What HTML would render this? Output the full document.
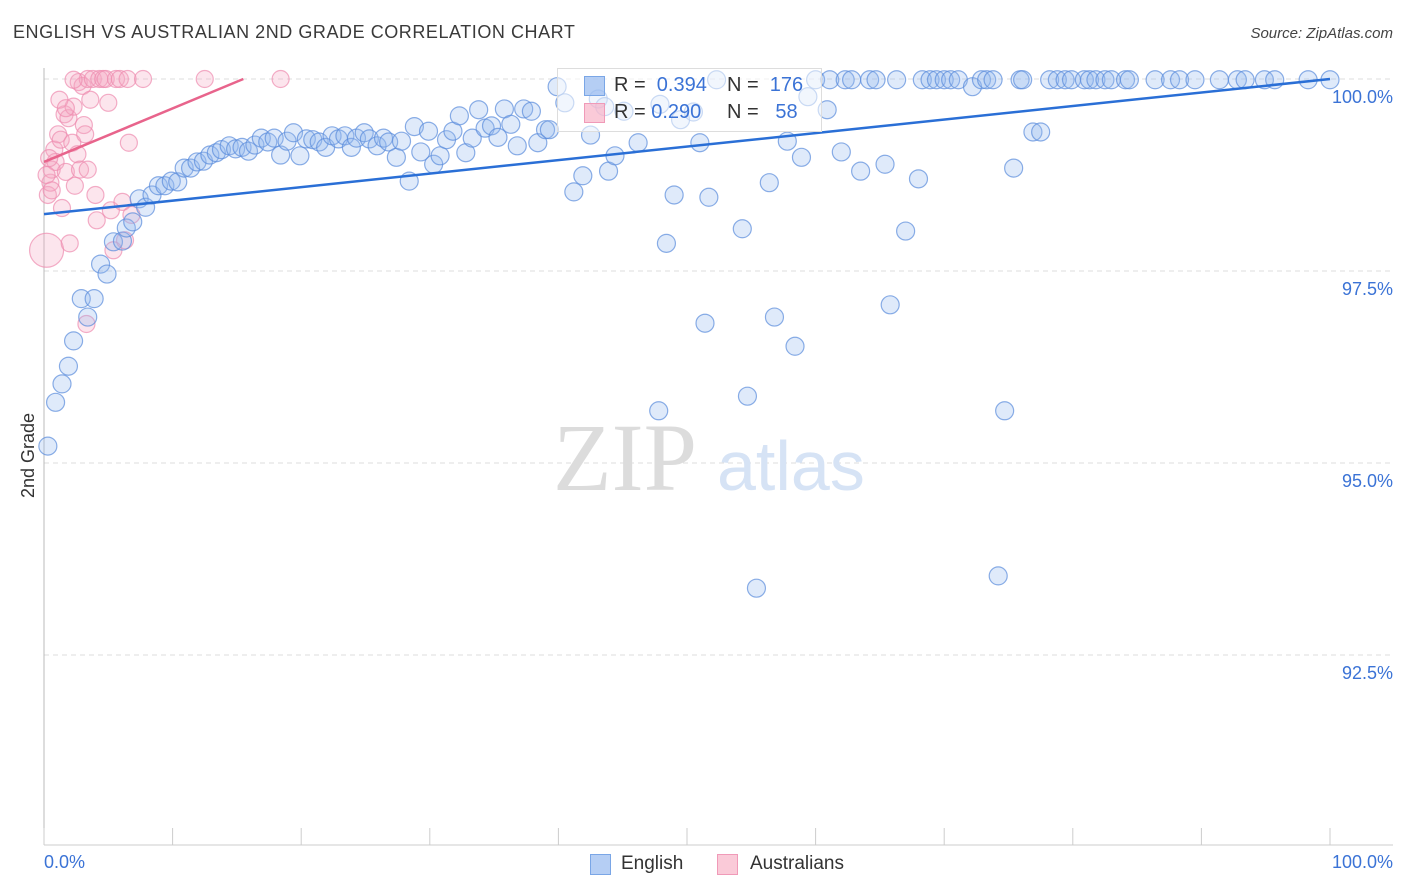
<!DOCTYPE html>
<html><head><meta charset="utf-8"><style>
body{margin:0;background:#fff;font-family:"Liberation Sans",sans-serif;}
#wrap{position:relative;width:1406px;height:892px;overflow:hidden;}
.t{position:absolute;white-space:nowrap;}
</style></head><body>
<div id="wrap">
<div class="t" style="left:13px;top:22px;font-size:18px;color:#3a3a3a;letter-spacing:0.55px;">ENGLISH VS AUSTRALIAN 2ND GRADE CORRELATION CHART</div>
<div class="t" style="right:13px;top:25px;font-size:15px;color:#444;font-style:italic;">Source: ZipAtlas.com</div>
<div class="t" style="left:-14px;top:445px;font-size:18px;color:#333;transform:rotate(-90deg);">2nd Grade</div>
<svg id="plot" width="1406" height="892" style="position:absolute;left:0;top:0"></svg>
<div class="t" style="left:44px;top:852px;font-size:18px;color:#3b73d6;">0.0%</div>
<div class="t" style="right:13px;top:852px;font-size:18px;color:#3b73d6;">100.0%</div>
<div style="position:absolute;left:557px;top:68px;width:263px;height:62px;border:1px solid #ddd;background:rgba(255,255,255,0.55);"></div>
<div style="position:absolute;left:584px;top:76px;width:19px;height:18px;background:rgba(150,185,240,0.7);border:1px solid #7aa6e6;"></div>
<div style="position:absolute;left:584px;top:103px;width:19px;height:18px;background:rgba(248,180,200,0.7);border:1px solid #f09ab8;"></div>
<div class="t" style="left:614px;top:74px;font-size:20px;color:#333;">R = <span style="color:#3b73d6">&nbsp;0.394</span></div>
<div class="t" style="left:727px;top:74px;font-size:20px;color:#333;">N = <span style="color:#3b73d6">&nbsp;176</span></div>
<div class="t" style="left:614px;top:101px;font-size:20px;color:#333;">R = <span style="color:#3b73d6">0.290</span></div>
<div class="t" style="left:727px;top:101px;font-size:20px;color:#333;">N = <span style="color:#3b73d6">&nbsp;&nbsp;58</span></div>
<div style="position:absolute;left:590px;top:854px;width:19px;height:19px;background:rgba(150,185,240,0.7);border:1px solid #7aa6e6;"></div>
<div class="t" style="left:621px;top:853px;font-size:19px;color:#333;">English</div>
<div style="position:absolute;left:717px;top:854px;width:19px;height:19px;background:rgba(248,180,200,0.7);border:1px solid #f09ab8;"></div>
<div class="t" style="left:750px;top:853px;font-size:19px;color:#333;">Australians</div>
</div>
<script>
const yTicks=[100,97.5,95,92.5];
const yTickLabels=["100.0%","97.5%","95.0%","92.5%"];
const englishX=[0.3,0.9,1.4,1.9,2.3,3.4,2.9,3.9,4.4,4.9,5.4,6.1,6.4,6.9,7.4,7.9,8.4,8.9,9.4,9.9,10.4,10.9,11.4,11.9,12.4,12.9,13.4,13.8,14.4,14.9,15.4,15.9,16.4,16.9,17.4,17.9,18.4,18.9,19.4,19.9,20.4,20.9,21.4,21.9,22.4,22.9,23.4,23.9,24.3,24.9,25.3,25.9,26.4,26.8,27.4,27.8,28.4,28.8,29.3,29.9,30.3,30.8,31.3,31.8,32.3,32.8,33.3,33.8,34.3,34.8,35.3,35.8,36.3,36.8,37.3,37.9,38.4,39.0,39.3,39.9,40.5,41.2,41.9,42.5,43.1,43.6,43.9,44.4,45.1,46.2,47.9,48.4,49.0,49.5,50.5,51.0,51.4,51.7,52.3,54.3,54.7,56.4,56.8,57.8,58.4,58.9,59.4,60.0,60.9,61.1,62.0,62.3,62.8,63.5,64.2,64.7,65.4,65.8,66.3,67.0,68.0,68.3,68.9,69.4,70.0,70.5,71.1,72.2,72.9,73.3,73.8,74.2,74.7,75.4,75.9,76.1,76.9,77.5,78.2,78.8,79.4,79.9,80.9,81.3,81.8,82.5,83.0,84.1,84.4,86.4,87.6,88.3,89.5,91.4,92.8,93.4,94.9,95.7,98.3,100,55.4,47.8];
const englishY=[95.22,95.79,96.03,96.26,96.59,96.90,97.14,97.14,97.59,97.46,97.88,97.89,98.06,98.14,98.44,98.33,98.49,98.61,98.61,98.67,98.66,98.84,98.84,98.92,98.93,99.01,99.04,99.08,99.13,99.09,99.11,99.06,99.14,99.23,99.18,99.23,99.01,99.19,99.30,99.00,99.22,99.21,99.18,99.11,99.26,99.22,99.26,99.11,99.23,99.30,99.22,99.13,99.23,99.18,98.98,99.19,98.67,99.38,99.05,99.32,98.89,99.00,99.21,99.32,99.52,99.04,99.23,99.60,99.36,99.39,99.24,99.61,99.41,99.13,99.61,99.58,99.17,99.34,99.34,99.90,99.69,98.53,98.74,99.27,99.74,99.64,98.80,99.00,99.58,99.17,99.67,97.86,98.49,99.47,99.57,99.17,96.82,98.46,99.99,98.05,95.87,98.65,96.90,99.19,96.52,98.98,99.77,99.99,99.60,99.99,99.05,99.99,99.99,98.80,99.99,99.99,98.89,97.06,99.99,98.02,98.70,99.99,99.99,99.99,99.99,99.99,99.99,99.90,99.99,99.99,99.99,93.53,95.68,98.84,99.99,99.99,99.31,99.31,99.99,99.99,99.99,99.99,99.99,99.99,99.99,99.99,99.99,99.99,99.99,99.99,99.99,99.99,99.99,99.99,99.99,99.99,99.99,99.99,99.99,99.99,93.37,95.68];
const ausX=[0.2,0.3,0.5,0.6,0.8,0.9,1.1,1.3,1.4,1.6,1.7,1.9,2.0,2.2,2.3,2.4,2.6,2.7,2.8,3.0,3.1,3.2,3.3,3.4,3.6,3.8,4.0,4.1,4.3,4.6,4.8,5.0,5.2,5.4,5.6,5.9,6.1,6.3,6.5,6.6,6.8,7.7,12.5,18.4,0.2,0.4,0.6,1.2,1.7,2.3,3.4];
const ausY=[97.77,98.49,98.65,98.82,99.08,98.92,99.28,99.21,98.32,99.54,98.79,99.49,97.86,99.17,99.64,98.61,99.02,99.96,98.82,99.91,99.40,99.28,96.81,100,99.73,100,98.49,98.16,100,100,100,99.69,98.29,97.77,100,100,98.40,97.90,100,99.17,98.23,100,100,100,98.75,98.97,98.55,99.73,99.62,99.99,98.82];
const englishTrend=[98.24,100.0]; // y at x=0, x=100
const ausTrend=[98.92,100.0,15.5]; // y at x=0, y at x=end, end x
const NS="http://www.w3.org/2000/svg";
const svg=document.getElementById('plot');
const X0=44,X1=1330,Y100=79,PXPER=76.8;
const sx=v=>X0+(X1-X0)*v/100;
const sy=v=>Y100+(100-v)*PXPER;
function mk(t,a){const e=document.createElementNS(NS,t);for(const k in a)e.setAttribute(k,a[k]);svg.appendChild(e);return e;}
yTicks.forEach((t,i)=>{
 const g=mk('line',{x1:44,x2:1393,y1:sy(t),y2:sy(t),stroke:'#ddd','stroke-dasharray':'5,4','stroke-width':1});
 
 
 const tx=mk('text',{x:1393,y:sy(t)+24,'text-anchor':'end','font-size':18,fill:'#3b73d6','font-family':'Liberation Sans, sans-serif'});
 tx.textContent=yTickLabels[i];
 
 
});
const ax=mk('line',{x1:44,x2:1393,y1:845,y2:845,stroke:'#ccc','stroke-width':1});


const ay=mk('line',{x1:44,x2:44,y1:68,y2:845,stroke:'#bbb','stroke-width':1});


for(let i=0;i<=10;i++){
 const t=mk('line',{x1:sx(i*10),x2:sx(i*10),y1:828,y2:845,stroke:'#ccc','stroke-width':1});
 
 
}
const wm1=mk('text',{x:553,y:490,'font-size':96,fill:'#dcdcdc','font-family':'Liberation Serif, serif'});
wm1.textContent='ZIP';


const wm2=mk('text',{x:717,y:490,'font-size':70,fill:'#d6e3f5','font-family':'Liberation Sans, sans-serif'});
wm2.textContent='atlas';


ausX.forEach((x,i)=>{
 const c=mk('circle',{cx:sx(x),cy:sy(ausY[i]),r:i===0?17:8.5,fill:'rgba(246,170,196,0.3)',stroke:'rgba(238,140,175,0.7)','stroke-width':1.2});
 
 
});
englishX.forEach((x,i)=>{
 const c=mk('circle',{cx:sx(x),cy:sy(englishY[i]),r:9,fill:'rgba(150,185,240,0.3)',stroke:'rgba(90,140,220,0.7)','stroke-width':1.2});
 
 
});
const l1=mk('line',{x1:sx(0),y1:sy(englishTrend[0]),x2:sx(100),y2:sy(englishTrend[1]),stroke:'#2a6fd6','stroke-width':2.5});


const l2=mk('line',{x1:sx(0),y1:sy(ausTrend[0]),x2:sx(ausTrend[2]),y2:sy(ausTrend[1]),stroke:'#e8648c','stroke-width':2.5});


</script>
</body></html>
